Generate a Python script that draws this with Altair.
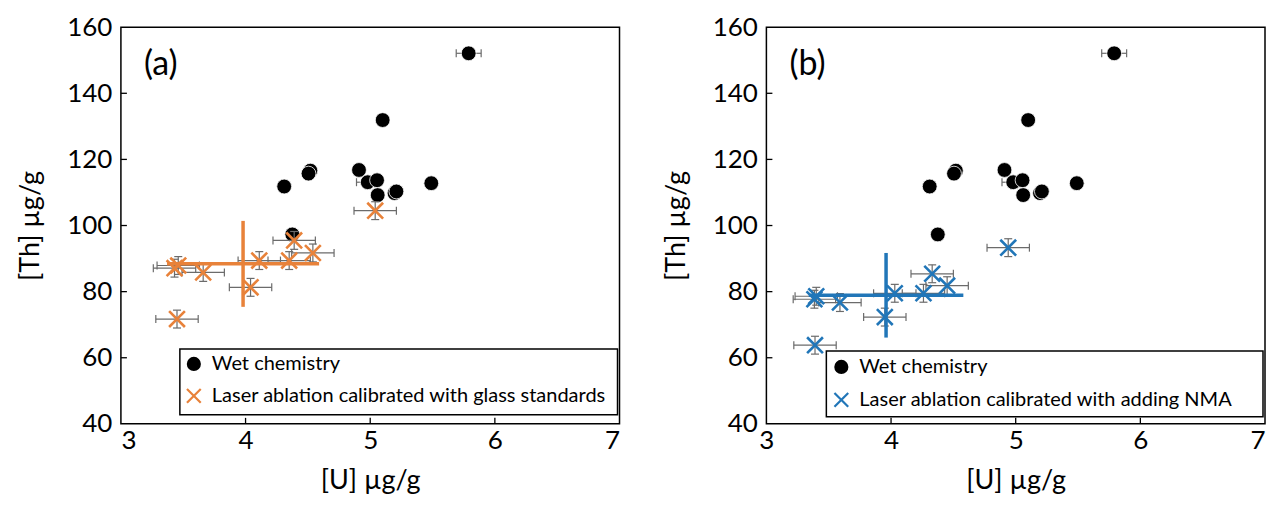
import altair as alt
import pandas as pd

FONT = "Lato"

# ---------------- data ----------------
x_tick_values = [3, 4, 5, 6, 7]
y_tick_values = [40, 60, 80, 100, 120, 140, 160]
x_inner_ticks = [4, 5, 6]
y_inner_ticks = [60, 80, 100, 120, 140]

# Wet chemistry (black circles), shared by both panels
wet_u = [5.79, 5.10, 4.52, 4.505, 4.31, 4.91, 4.98, 5.055, 5.06, 5.195, 5.21, 5.49, 4.375]
wet_th = [152.1, 131.9, 116.6, 115.7, 111.8, 116.8, 113.1, 113.7, 109.2, 109.8, 110.3, 112.8, 97.3]
wet_u_err = [0.10, 0.04, 0.04, 0.04, 0.04, 0.04, 0.09, 0.04, 0.04, 0.04, 0.04, 0.04, 0.04]
wet_th_err = [0.8, 0.8, 0.8, 0.8, 0.8, 0.8, 0.8, 0.8, 0.8, 0.8, 0.8, 0.8, 0.8]

# (a) laser ablation calibrated with glass standards
glass_u = [5.04, 4.39, 4.54, 4.35, 4.11, 4.04, 3.66, 3.46, 3.43, 3.45]
glass_th = [104.5, 95.5, 91.7, 89.4, 89.4, 81.3, 85.8, 87.9, 87.1, 71.7]
glass_u_err = [0.17, 0.17, 0.17, 0.17, 0.17, 0.17, 0.17, 0.17, 0.17, 0.17]
glass_th_err = [2.7, 2.7, 2.7, 2.7, 2.7, 2.7, 2.7, 2.7, 2.7, 2.7]
glass_mean_u = [3.98]
glass_mean_th = [88.4]
glass_mean_u_err = [0.61]
glass_mean_th_err = [13.0]

# (b) laser ablation calibrated with adding NMA
nma_u = [4.94, 4.33, 4.45, 4.26, 4.03, 3.95, 3.59, 3.40, 3.385, 3.39]
nma_th = [93.3, 85.4, 81.8, 79.5, 79.5, 72.3, 76.7, 78.6, 77.7, 63.8]
nma_u_err = [0.17, 0.17, 0.17, 0.17, 0.17, 0.17, 0.17, 0.17, 0.17, 0.17]
nma_th_err = [2.7, 2.7, 2.7, 2.7, 2.7, 2.7, 2.7, 2.7, 2.7, 2.7]
nma_mean_u = [3.96]
nma_mean_th = [78.9]
nma_mean_u_err = [0.62]
nma_mean_th_err = [12.8]

ORANGE = "#E8823A"
BLUE = "#2176B8"
GRAY = "#6b6b6b"
X_SHAPE = "M-1,-1L1,1M-1,1L1,-1"
VCAP = "M0,-1L0,1"
HCAP = "M-1,0L1,0"

W, H = 499, 397

xs = alt.Scale(domain=[3, 7], nice=False, zero=False)
ys = alt.Scale(domain=[40, 160], nice=False, zero=False)
y_axis = alt.Axis(values=y_tick_values, title="[Th] µg/g", format="d")


def frame(u, th, ue, te):
    df = pd.DataFrame({"u": u, "th": th, "ue": ue, "te": te})
    df["ulo"] = df["u"] - df["ue"]
    df["uhi"] = df["u"] + df["ue"]
    df["tlo"] = df["th"] - df["te"]
    df["thi"] = df["th"] + df["te"]
    return df


def Y(f):
    return alt.Y(f, type="quantitative", scale=ys, axis=y_axis)


def panel(letter, lab, mean, color, legend_label, lg, x_axis):
    def X(f):
        return alt.X(f, type="quantitative", scale=xs, axis=x_axis)

    def errbars(df, with_y=True):
        base = alt.Chart(df)
        cap = dict(size=64, filled=False, opacity=1, color=GRAY, strokeWidth=1.2)
        out = [
            base.mark_rule(color=GRAY, strokeWidth=1.2).encode(x=X("ulo"), x2="uhi", y=Y("th")),
            base.mark_point(shape=VCAP, **cap).encode(x=X("ulo"), y=Y("th")),
            base.mark_point(shape=VCAP, **cap).encode(x=X("uhi"), y=Y("th")),
        ]
        if with_y:
            out += [
                base.mark_rule(color=GRAY, strokeWidth=1.2).encode(x=X("u"), y=Y("tlo"), y2="thi"),
                base.mark_point(shape=HCAP, **cap).encode(x=X("u"), y=Y("tlo")),
                base.mark_point(shape=HCAP, **cap).encode(x=X("u"), y=Y("thi")),
            ]
        return out

    one = pd.DataFrame({"k": [0]})
    wet = frame(wet_u, wet_th, wet_u_err, wet_th_err)
    layers = []
    layers += errbars(wet, with_y=False)
    layers.append(
        alt.Chart(wet).mark_circle(size=220, color="black", opacity=1,
                                   stroke="white", strokeWidth=0.8).encode(
            x=X("u"), y=Y("th"))
    )
    layers += errbars(lab)
    layers.append(
        alt.Chart(lab).mark_point(shape=X_SHAPE, size=250, filled=False, opacity=1,
                                  color=color, strokeWidth=2.6).encode(
            x=X("u"), y=Y("th"))
    )
    mb = alt.Chart(mean)
    layers.append(mb.mark_rule(color=color, strokeWidth=3.5).encode(
        x=X("ulo"), x2="uhi", y=Y("th")))
    layers.append(mb.mark_rule(color=color, strokeWidth=3.5).encode(
        x=X("u"), y=Y("tlo"), y2="thi"))
    # inward ticks
    layers.append(alt.Chart(pd.DataFrame({"v": y_inner_ticks})).mark_rule(
        color="black", strokeWidth=1.3).encode(
        y=Y("v"), x=alt.value(0), x2=alt.value(6)))
    layers.append(alt.Chart(pd.DataFrame({"v": x_inner_ticks})).mark_rule(
        color="black", strokeWidth=1.3).encode(
        x=X("v"), y=alt.value(H), y2=alt.value(H - 6)))
    # panel letter
    layers.append(alt.Chart(one).mark_text(
        text=letter, font=FONT, fontSize=34, align="left", baseline="middle",
        color="black").encode(x=alt.value(23), y=alt.value(38)))
    # legend
    layers.append(alt.Chart(one).mark_rect(
        fill="white", stroke="black", strokeWidth=1.5).encode(
        x=alt.value(lg["x0"]), x2=alt.value(lg["x1"]),
        y=alt.value(lg["y0"]), y2=alt.value(lg["y1"])))
    layers.append(alt.Chart(one).mark_circle(size=200, color="black", opacity=1).encode(
        x=alt.value(lg["sx"]), y=alt.value(lg["r1"])))
    layers.append(alt.Chart(one).mark_point(
        shape=X_SHAPE, size=190, filled=False, opacity=1, color=color,
        strokeWidth=2.2).encode(x=alt.value(lg["sx"]), y=alt.value(lg["r2"])))
    layers.append(alt.Chart(one).mark_text(
        text="Wet chemistry", font=FONT, fontSize=20, align="left",
        baseline="middle", color="black").encode(
        x=alt.value(lg["tx"]), y=alt.value(lg["r1"])))
    layers.append(alt.Chart(one).mark_text(
        text=legend_label, font=FONT, fontSize=20, align="left",
        baseline="middle", color="black").encode(
        x=alt.value(lg["tx"]), y=alt.value(lg["r2"])))
    return alt.layer(*layers).properties(width=W, height=H)


glass = frame(glass_u, glass_th, glass_u_err, glass_th_err)
glass_mean = frame(glass_mean_u, glass_mean_th, glass_mean_u_err, glass_mean_th_err)
nma = frame(nma_u, nma_th, nma_u_err, nma_th_err)
nma_mean = frame(nma_mean_u, nma_mean_th, nma_mean_u_err, nma_mean_th_err)

lg_a = dict(x0=59, x1=497, y0=322, y1=388, sx=73, tx=91, r1=337, r2=369)
lg_b = dict(x0=60, x1=497, y0=324, y1=390, sx=75, tx=93, r1=340, r2=373)

x_axis_a = alt.Axis(values=x_tick_values, title="[U] µg/g", format="d")
x_axis_b = alt.Axis(
    values=x_tick_values, title="[U] µg/g", format="d",
    labelAlign={"condition": {"test": "datum.value == 7", "value": "right"},
                "value": "center"},
)

pa = panel("(a)", glass, glass_mean, ORANGE,
           "Laser ablation calibrated with glass standards", lg_a, x_axis_a)
pb = panel("(b)", nma, nma_mean, BLUE,
           "Laser ablation calibrated with adding NMA", lg_b, x_axis_b)

chart = alt.hconcat(pa, pb, spacing=41).configure_view(
    stroke="black", strokeWidth=1.5
).configure_axis(
    domain=False, ticks=False, grid=False,
    labelFont=FONT, labelFontSize=26, labelColor="black",
    titleFont=FONT, titleFontSize=27, titleFontWeight="normal", titleColor="black",
    labelOverlap=False,
).configure_axisX(labelPadding=4, titlePadding=14).configure_axisY(
    labelPadding=9, titlePadding=22
).properties(padding={"left": 8, "top": 5, "right": 0, "bottom": 0})

chart.save("out.html", embed_options={"renderer": "svg", "actions": False})
